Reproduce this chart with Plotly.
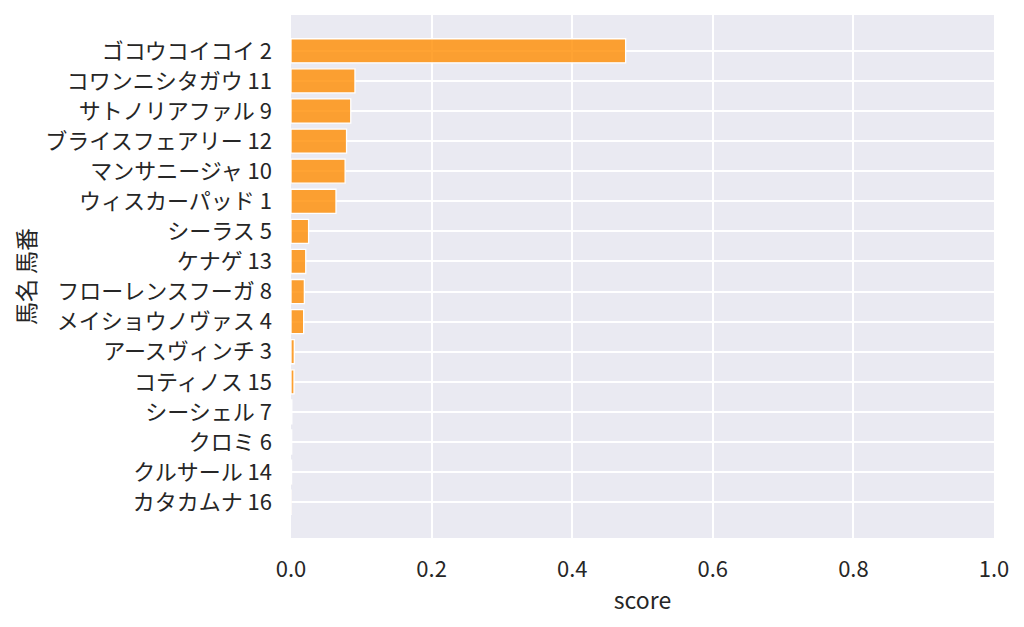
import plotly.graph_objects as go

names = ["ゴコウコイコイ 2", "コワンニシタガウ 11", "サトノリアファル 9", "ブライスフェアリー 12",
         "マンサニージャ 10", "ウィスカーパッド 1", "シーラス 5", "ケナゲ 13",
         "フローレンスフーガ 8", "メイショウノヴァス 4", "アースヴィンチ 3", "コティノス 15",
         "シーシェル 7", "クロミ 6", "クルサール 14", "カタカムナ 16"]
scores = [0.476, 0.091, 0.085, 0.079, 0.077, 0.064, 0.025, 0.021,
          0.019, 0.018, 0.0047, 0.0043, 0.0012, 0.0010, 0.0008, 0.0002]
xticks = [0.0, 0.2, 0.4, 0.6, 0.8, 1.0]

FONT = "Noto Sans CJK JP"
TXT = "#262626"

fig = go.Figure(go.Bar(
    x=scores, y=names, orientation="h", width=0.8,
    marker=dict(color="rgba(255,140,0,0.8)", line=dict(color="white", width=1.3)),
))

fig.update_layout(
    width=1024, height=627,
    margin=dict(l=283, r=38, t=7, b=97),
    paper_bgcolor="white", plot_bgcolor="#EAEAF2",
    font=dict(family=FONT, size=22, color=TXT),
    showlegend=False,
    bargap=0.2,
)
fig.update_xaxes(
    range=[0, 1], tickvals=xticks, ticktext=[f"{v:.1f}" for v in xticks],
    showgrid=True, gridcolor="white", gridwidth=1.5, zeroline=False,
    showline=False, ticks="", ticklabelstandoff=16,
    title=dict(text="score", font=dict(size=23, color=TXT), standoff=10),
    automargin=False,
)
fig.update_yaxes(
    type="category", categoryorder="array", categoryarray=names,
    range=[16.19, -1.19],
    showgrid=True, gridcolor="white", gridwidth=1.5, zeroline=False,
    showline=False, ticks="", ticklabelstandoff=18,
    title=dict(text="馬名 馬番", font=dict(size=23, color=TXT), standoff=10),
    automargin=False,
)

fig.write_html("out.html")
